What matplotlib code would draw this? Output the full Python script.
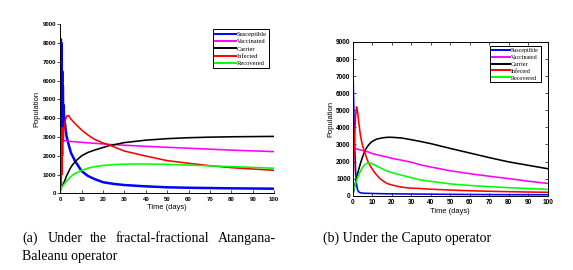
import matplotlib
matplotlib.use("Agg")
import matplotlib.pyplot as plt

# ---------------- data: (a) fractal-fractional Atangana-Baleanu ----------------
tS_a = [0, 0.3, 0.45, 0.6, 0.75, 0.9, 1.05, 1.2, 1.35, 1.5, 1.7, 2, 2.5, 3, 4, 5, 7, 10,
        13, 16, 20, 25, 30, 40, 50, 60, 70, 80, 90, 100]
S_a = [8200, 8200, 3000, 8000, 4000, 6500, 3500, 5700, 3800, 4700, 4200, 3900, 3400, 3000,
       2550, 2150, 1700, 1180, 920, 760, 590, 500, 440, 370, 320, 295, 280, 265, 255, 245]

tV_a = [0, 2, 5, 10, 15, 20, 23, 30, 40, 50, 60, 70, 80, 90, 100]
V_a = [2850, 2800, 2760, 2715, 2670, 2630, 2600, 2560, 2500, 2450, 2400, 2350, 2300, 2260, 2220]

tC_a = [0, 1, 2, 3, 5, 7, 10, 13, 16, 20, 23, 30, 40, 50, 60, 70, 80, 90, 100]
C_a = [200, 420, 650, 950, 1400, 1700, 2000, 2180, 2300, 2440, 2540, 2700, 2830, 2910, 2960,
       2990, 3010, 3020, 3030]

tI_a = [0, 0.3, 0.45, 0.6, 0.75, 0.9, 1.05, 1.2, 1.4, 1.6, 2, 2.5, 3, 3.5, 4, 5, 7, 10, 13,
        16, 20, 23, 30, 40, 50, 60, 70, 80, 90, 100]
I_a = [0, 3000, 200, 3300, 1000, 3500, 2000, 3400, 2800, 3300, 3700, 3950, 4100, 4140, 4130,
       3950, 3700, 3370, 3100, 2880, 2680, 2570, 2250, 1985, 1740, 1600, 1470, 1365, 1295, 1225]

tR_a = [0, 1, 2, 3, 5, 7, 10, 13, 16, 20, 25, 30, 40, 50, 60, 70, 80, 90, 100]
R_a = [200, 380, 520, 660, 900, 1060, 1220, 1340, 1420, 1480, 1530, 1555, 1560, 1540, 1500,
       1460, 1420, 1380, 1335]

# ---------------- data: (b) Caputo ----------------
t_b = [0, 0.5, 1, 1.5, 2, 2.5, 3, 4, 5, 6, 7, 8, 9, 10, 12, 14, 16, 18, 20, 25, 30, 35, 40,
       50, 60, 70, 80, 90, 100]
S_b = [8200, 5500, 3000, 1400, 650, 350, 230, 170, 150, 145, 140, 138, 135, 130, 125, 120, 115,
       112, 110, 105, 100, 95, 90, 80, 72, 65, 60, 57, 55]
V_b = [2820, 2800, 2780, 2760, 2740, 2720, 2700, 2680, 2650, 2620, 2590, 2560, 2520, 2470,
       2410, 2360, 2310, 2250, 2190, 2080, 1960, 1800, 1680, 1460, 1290, 1140, 1000, 850, 720]
C_b = [0, 280, 550, 800, 1050, 1280, 1500, 1900, 2250, 2550, 2780, 2950, 3080, 3180, 3300,
       3360, 3400, 3420, 3420, 3380, 3280, 3170, 3050, 2770, 2500, 2230, 1980, 1780, 1580]
I_b = [100, 1800, 3500, 4700, 5200, 4900, 4400, 3500, 2950, 2600, 2250, 1950, 1750, 1550, 1250,
       1000, 830, 700, 630, 500, 440, 420, 380, 330, 290, 260, 235, 215, 200]
R_b = [200, 350, 500, 700, 900, 1050, 1200, 1450, 1650, 1800, 1880, 1920, 1910, 1870, 1760,
       1640, 1530, 1430, 1360, 1200, 1060, 920, 840, 690, 600, 530, 470, 420, 370]

labels = ["Susceptible", "Vaccinated", "Carrier", "Infected", "Recovered"]
colors = ["#0000ff", "#ff00ff", "#000000", "#ff0000", "#00ff00"]

xticks = list(range(0, 101, 10))
yticks = list(range(0, 9001, 1000))

plt.rcParams['font.family'] = ['Liberation Sans', 'DejaVu Sans']

fig = plt.figure(figsize=(5.73, 2.70), dpi=100)
fig.patch.set_facecolor("white")

# ---- left axes ----
axa = fig.add_axes([60.3 / 573, (270 - 193.3) / 270, (274 - 60.3) / 573, 169.0 / 270])
series_a = [(tS_a, S_a), (tV_a, V_a), (tC_a, C_a), (tI_a, I_a), (tR_a, R_a)]
lw_a = [1.8, 1.15, 1.15, 1.15, 1.15]
for (t, y), c, lab, lw in zip(series_a, colors, labels, lw_a):
    axa.plot(t, y, color=c, lw=lw, label=lab)
axa.set_xlim(0, 100)
axa.set_ylim(0, 9000)
axa.set_xticks(xticks)
axa.set_yticks(yticks)
axa.spines['top'].set_visible(False)
axa.spines['right'].set_visible(False)
for s in ['left', 'bottom']:
    axa.spines[s].set_linewidth(0.7)
axa.tick_params(axis='y', direction='out', length=2, width=0.5, pad=1,
                labelsize=4.3)
axa.tick_params(axis='x', direction='in', length=2, width=0.5, pad=3,
                labelsize=4.3)
for lbl in axa.get_xticklabels() + axa.get_yticklabels():
    lbl.set_fontweight('bold')
axa.set_xlabel("Time (days)", fontsize=5.4, labelpad=1.2)
axa.set_ylabel("Population", fontsize=5.4, labelpad=1.5)
lega = axa.legend(loc='upper right', bbox_to_anchor=(1.0 - 5 / 213.7, 1.0 - 5 / 169.0),
                  prop={'family': 'Liberation Serif', 'size': 4.7},
                  frameon=True, fancybox=False, edgecolor='black', framealpha=1,
                  handlelength=3.2, handletextpad=0.15, labelspacing=0.28,
                  borderpad=0.3, borderaxespad=0)
lega.get_frame().set_linewidth(0.7)
for h in lega.get_lines():
    h.set_linewidth(1.4)

# ---- right axes ----
axb = fig.add_axes([352.7 / 573, (270 - 195.7) / 270, (547.7 - 352.7) / 573, 153.7 / 270])
series_b = [S_b, V_b, C_b, I_b, R_b]
for y, c, lab in zip(series_b, colors, labels):
    axb.plot(t_b, y, color=c, lw=1.15, label=lab)
axb.set_xlim(0, 100)
axb.set_ylim(0, 9000)
axb.set_xticks(xticks)
axb.set_yticks(yticks)
for s in axb.spines.values():
    s.set_linewidth(0.7)
axb.tick_params(axis='both', direction='in', length=2, width=0.5, pad=2.5,
                labelsize=4.7, top=True, right=True)
axb.tick_params(axis='y', pad=1.5)
for lbl in axb.get_xticklabels() + axb.get_yticklabels():
    lbl.set_fontweight('bold')
axb.set_xlabel("Time (days)", fontsize=5.4, labelpad=1.2)
axb.set_ylabel("Population", fontsize=5.4, labelpad=1.2)
legb = axb.legend(loc='upper right', bbox_to_anchor=(1.0 - 7 / 195.0, 1.0 - 3.7 / 153.7),
                  prop={'family': 'Liberation Serif', 'size': 4.3},
                  frameon=True, fancybox=False, edgecolor='black', framealpha=1,
                  handlelength=3.0, handletextpad=0.15, labelspacing=0.3,
                  borderpad=0.3, borderaxespad=0)
legb.get_frame().set_linewidth(0.7)
for h in legb.get_lines():
    h.set_linewidth(1.4)

# ---- captions ----
cap_words = [("(a)", 22.0), ("Under", 47.7), ("the", 90.0), ("fractal-fractional", 116.0),
             ("Atangana-", 218.0)]
for w, xp in cap_words:
    fig.text(xp / 573, (270 - 241.7) / 270, w, family='Liberation Serif', fontsize=10,
             ha='left', va='baseline')
fig.text(22.0 / 573, (270 - 260.0) / 270, "Baleanu operator", family='Liberation Serif',
         fontsize=10, ha='left', va='baseline')
fig.text(322.7 / 573, (270 - 241.7) / 270, "(b) Under the Caputo operator",
         family='Liberation Serif', fontsize=10, ha='left', va='baseline')

fig.savefig("out.png", dpi=100, facecolor="white")
